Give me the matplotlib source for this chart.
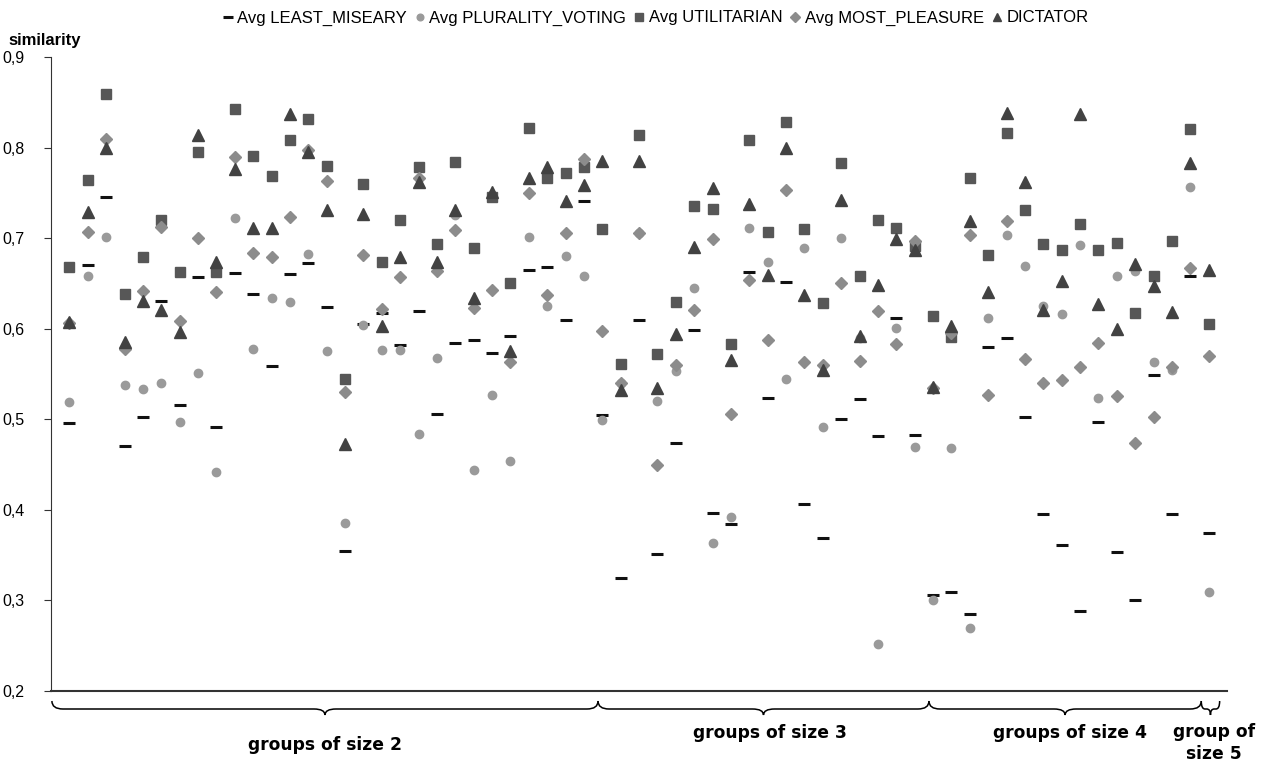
import matplotlib
matplotlib.use("Agg")
import matplotlib.pyplot as plt
from matplotlib.path import Path
from matplotlib.patches import PathPatch
from matplotlib.ticker import FuncFormatter
import matplotlib.transforms as mtransforms

plt.rcParams["font.family"] = ["Liberation Sans", "DejaVu Sans"]

# similarity per group (63 groups)
least_misery = [0.496, 0.670, 0.745, 0.471, 0.502, 0.631, 0.516, 0.657, 0.491, 0.661,
                0.638, 0.559, 0.660, 0.673, 0.624, 0.355, 0.605, 0.617, 0.582, 0.620,
                0.506, 0.584, 0.587, 0.573, 0.592, 0.665, 0.668, 0.610, 0.741, 0.505,
                0.325, 0.610, 0.351, 0.474, 0.599, 0.396, 0.384, 0.663, 0.524, 0.652,
                0.407, 0.369, 0.500, 0.522, 0.482, 0.612, 0.483, 0.306, 0.309, 0.285,
                0.580, 0.590, 0.502, 0.395, 0.361, 0.288, 0.497, 0.353, 0.301, 0.549,
                0.395, 0.658, 0.374]
plurality = [0.519, 0.658, 0.701, 0.538, 0.533, 0.540, 0.497, 0.551, 0.442, 0.722,
             0.578, 0.634, 0.630, 0.683, 0.575, 0.385, 0.604, 0.576, 0.576, 0.484,
             0.568, 0.726, 0.444, 0.527, 0.454, 0.701, 0.625, 0.680, 0.658, 0.499,
             0.540, 0.706, 0.520, 0.553, 0.645, 0.363, 0.392, 0.711, 0.674, 0.544,
             0.689, 0.492, 0.700, 0.590, 0.252, 0.601, 0.469, 0.300, 0.468, 0.270,
             0.612, 0.704, 0.669, 0.625, 0.616, 0.692, 0.524, 0.658, 0.664, 0.563,
             0.554, 0.756, 0.309]
utilitarian = [0.668, 0.764, 0.859, 0.638, 0.679, 0.720, 0.663, 0.795, 0.663, 0.843,
               0.791, 0.769, 0.808, 0.831, 0.780, 0.544, 0.760, 0.674, 0.720, 0.779,
               0.693, 0.784, 0.689, 0.745, 0.650, 0.822, 0.766, 0.772, 0.779, 0.710,
               0.561, 0.814, 0.572, 0.630, 0.735, 0.732, 0.583, 0.808, 0.707, 0.828,
               0.710, 0.628, 0.783, 0.658, 0.720, 0.711, 0.691, 0.614, 0.591, 0.766,
               0.681, 0.816, 0.731, 0.693, 0.687, 0.716, 0.687, 0.695, 0.617, 0.658,
               0.697, 0.820, 0.605]
most_pleasure = [0.606, 0.707, 0.810, 0.578, 0.642, 0.712, 0.609, 0.700, 0.640, 0.790,
                 0.684, 0.679, 0.723, 0.797, 0.763, 0.530, 0.681, 0.622, 0.657, 0.766,
                 0.664, 0.709, 0.623, 0.643, 0.563, 0.750, 0.637, 0.706, 0.787, 0.598,
                 0.540, 0.706, 0.449, 0.560, 0.621, 0.699, 0.506, 0.654, 0.587, 0.753,
                 0.563, 0.560, 0.650, 0.564, 0.620, 0.583, 0.697, 0.535, 0.595, 0.703,
                 0.527, 0.719, 0.567, 0.540, 0.543, 0.558, 0.584, 0.526, 0.474, 0.502,
                 0.558, 0.667, 0.570]
dictator = [0.607, 0.729, 0.800, 0.585, 0.631, 0.621, 0.596, 0.814, 0.674, 0.776,
            0.711, 0.711, 0.837, 0.795, 0.731, 0.473, 0.727, 0.603, 0.679, 0.762,
            0.674, 0.731, 0.634, 0.751, 0.575, 0.766, 0.778, 0.741, 0.759, 0.785,
            0.532, 0.785, 0.535, 0.594, 0.690, 0.755, 0.566, 0.738, 0.659, 0.799,
            0.637, 0.554, 0.742, 0.592, 0.648, 0.699, 0.687, 0.536, 0.603, 0.719,
            0.640, 0.838, 0.762, 0.621, 0.653, 0.837, 0.627, 0.600, 0.672, 0.647,
            0.619, 0.783, 0.665]

group_labels = ["groups of size 2", "groups of size 3", "groups of size 4", "group of\nsize 5"]
group_edges = [0.05, 29.77, 47.78, 62.6, 63.6]

x = list(range(1, len(least_misery) + 1))

fig = plt.figure(figsize=(12.68, 7.63), dpi=100)
ax = fig.add_axes([51 / 1268, 1 - 691 / 763, 1176 / 1268, 634 / 763])

ax.plot(x, least_misery, ls="none", marker="_", ms=9, mew=2.2, color="#111111", label="Avg LEAST_MISEARY")
ax.plot(x, plurality, ls="none", marker="o", ms=6, color="#9a9a9a", mec="#9a9a9a", label="Avg PLURALITY_VOTING")
ax.plot(x, utilitarian, ls="none", marker="s", ms=7.5, color="#575757", mec="#575757", label="Avg UTILITARIAN")
ax.plot(x, most_pleasure, ls="none", marker="D", ms=6.3, color="#8c8c8c", mec="#8c8c8c", label="Avg MOST_PLEASURE")
ax.plot(x, dictator, ls="none", marker="^", ms=8, color="#424242", mec="#424242", label="DICTATOR")

ax.set_xlim(0, 64)
ax.set_ylim(0.2, 0.9)
ax.set_yticks([0.2, 0.3, 0.4, 0.5, 0.6, 0.7, 0.8, 0.9])
ax.yaxis.set_major_formatter(FuncFormatter(lambda v, p: ("%.1f" % v).replace(".", ",")))
ax.set_xticks([])
for s in ["top", "right"]:
    ax.spines[s].set_visible(False)
ax.spines["left"].set_color("#333333")
ax.spines["bottom"].set_color("#333333")
ax.spines["bottom"].set_linewidth(1.5)
ax.tick_params(axis="y", direction="out", length=5, color="#333333", labelsize=11.5, pad=14)

fig.text(8 / 1268, 1 - 40 / 763, "similarity", fontsize=12, fontweight="bold", va="center", ha="left")

fig.legend(loc="upper center", bbox_to_anchor=(0.517, 1.006), ncol=5, frameon=False,
           fontsize=12, handlelength=0.6, handletextpad=0.25, columnspacing=0.5,
           markerscale=0.8)

# braces under the x axis
trans = mtransforms.blended_transform_factory(ax.transData, ax.transAxes)
tip, level, mid = -10 / 634, -18 / 634, -24 / 634
for i in range(len(group_edges) - 1):
    x0, x1 = group_edges[i], group_edges[i + 1]
    xm = (x0 + x1) / 2
    r = min(0.6, (x1 - x0) / 5)
    verts = [(x0, tip), (x0, level), (x0 + r, level),
             (xm - r, level),
             (xm, level), (xm, mid),
             (xm, level), (xm + r, level),
             (x1 - r, level),
             (x1, level), (x1, tip)]
    codes = [Path.MOVETO, Path.CURVE3, Path.CURVE3,
             Path.LINETO,
             Path.CURVE3, Path.CURVE3,
             Path.CURVE3, Path.CURVE3,
             Path.LINETO,
             Path.CURVE3, Path.CURVE3]
    ax.add_patch(PathPatch(Path(verts, codes), fill=False, lw=1.1, color="black",
                           transform=trans, clip_on=False))

label_pos = [(325, 745), (770, 733), (1070, 733), (1214, 743)]
for lab, (px, py) in zip(group_labels, label_pos):
    fig.text(px / 1268, 1 - py / 763, lab, fontsize=12.3, fontweight="bold",
             family="DejaVu Sans", ha="center", va="center", linespacing=1.3)

fig.savefig("out.png", dpi=100)
